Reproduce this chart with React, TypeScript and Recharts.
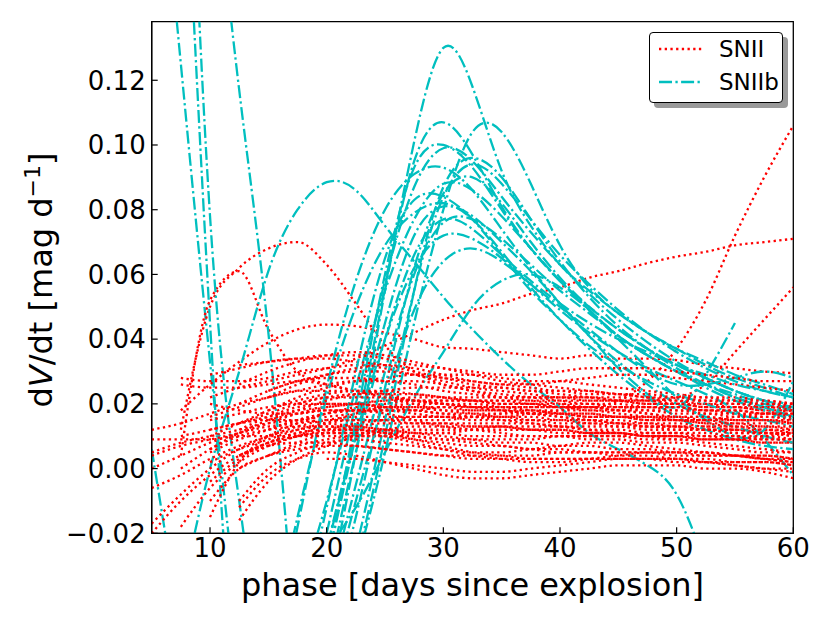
import React from 'react'
import { LineChart, Line, XAxis, YAxis, ReferenceArea } from 'recharts'

const _ = null

// phase grid (days since explosion) shared by every curve
const phases = [5, 7.5, 10, 12.5, 15, 17.5, 20, 22.5, 25, 27.5, 30, 32.5, 35, 37.5, 40, 42.5, 45, 47.5, 50, 52.5, 55, 57.5, 60]
const phaseTicks = [10, 20, 30, 40, 50, 60]
const rateTicks = [-0.02, 0, 0.02, 0.04, 0.06, 0.08, 0.1, 0.12]

// SNII dV/dt curves, one row per object (missing phases = null / left out at the end)
const snII: (number | null)[][] = [
  [_, 0.012, 0.05, 0.062, 0.068, 0.07, 0.063, 0.051, 0.038, 0.03, 0.026, 0.024, 0.022, 0.021, 0.02, 0.019, 0.019, 0.018, 0.018, 0.017, 0.017, 0.016, 0.016],
  [_, 0.004, 0.052, 0.061, 0.043, 0.03, 0.026, 0.024, 0.022, 0.021, 0.02, 0.019, 0.018, 0.017, 0.016, 0.015, 0.014, 0.013, 0.013, 0.012, 0.012, 0.011, 0.011],
  [_, 0.018, 0.026, 0.033, 0.039, 0.043, 0.0445, 0.044, 0.042, 0.04, 0.0375, 0.037, 0.036, 0.035, 0.034, 0.035, 0.034, 0.034, 0.0335, 0.032, 0.031, 0.03, 0.0295],
  [_, _, 0.022, 0.025, 0.027, 0.029, 0.031, 0.034, 0.038, 0.042, 0.046, 0.049, 0.051, 0.054, 0.056, 0.059, 0.061, 0.0635, 0.0655, 0.067, 0.069, 0.07, 0.071],
  [0.005, 0.008, 0.01, 0.012, 0.014, 0.015, 0.016, 0.017, 0.018, 0.018, 0.019, 0.019, 0.019, 0.019, 0.019, 0.019, 0.021, 0.027, 0.037, 0.052, 0.072, 0.09, 0.106],
  [_, 0.01, 0.012, 0.014, 0.016, 0.018, 0.019, 0.02, 0.021, 0.021, 0.021, 0.021, 0.021, 0.021, 0.021, 0.021, 0.021, 0.021, 0.022, 0.026, 0.036, 0.046, 0.056],
  [_, 0.028, 0.027, 0.027, 0.028, 0.03, 0.031, 0.032, 0.031, 0.029, 0.027, 0.025, 0.024, 0.023, 0.022, 0.022, 0.021, 0.02, 0.02, 0.019, 0.019, 0.018, 0.018],
  [_, 0.026, 0.025, 0.025, 0.026, 0.027, 0.026, 0.024, 0.022, 0.02, 0.018, 0.017, 0.016, 0.016, 0.015, 0.015, 0.014, 0.014, 0.013, 0.013, 0.012, 0.012, 0.011],
  [-0.017, -0.008, 0.0, 0.006, 0.01, 0.012, 0.013, 0.013, 0.012, 0.011, 0.01, 0.009, 0.008, 0.008, 0.007, 0.007, 0.006, 0.006, 0.005, 0.005, 0.004, 0.004, 0.003],
  [0.004, 0.007, 0.009, 0.011, 0.013, 0.014, 0.015, 0.015, 0.015, 0.014, 0.014, 0.013, 0.013, 0.012, 0.012, 0.011, 0.011, 0.01, 0.01, 0.009, 0.009, 0.008, 0.008],
  [0.0, 0.004, 0.008, 0.011, 0.014, 0.017, 0.019, 0.02, 0.021, 0.022, 0.022, 0.022, 0.022, 0.022, 0.022, 0.021, 0.021, 0.02, 0.02, 0.019, 0.019, 0.018, 0.018],
  [-0.006, -0.002, 0.003, 0.007, 0.01, 0.013, 0.015, 0.016, 0.016, 0.016, 0.016, 0.015, 0.015, 0.015, 0.014, 0.014, 0.013, 0.013, 0.012, 0.012, 0.011, 0.011, 0.01],
  [_, _, -0.015, 0.002, 0.01, 0.014, 0.017, 0.019, 0.02, 0.021, 0.021, 0.021, 0.02, 0.02, 0.019, 0.019, 0.018, 0.017, 0.016, 0.016, 0.015, 0.015, 0.014],
  [0.009, 0.009, 0.009, 0.01, 0.01, 0.01, 0.01, 0.01, 0.01, 0.009, 0.008, 0.007, 0.007, 0.006, 0.006, 0.005, 0.005, 0.005, 0.004, 0.004, 0.004, 0.003, 0.003],
  [_, _, _, -0.012, -0.002, 0.003, 0.005, 0.004, 0.002, 0.0, -0.002, -0.003, -0.003, -0.002, -0.001, 0.0, 0.001, 0.001, 0.001, 0.0, 0.0, -0.001, -0.003],
  [_, _, 0.01, 0.014, 0.018, 0.022, 0.025, 0.027, 0.028, 0.029, 0.029, 0.029, 0.028, 0.027, 0.027, 0.026, 0.025, 0.024, 0.023, 0.022, 0.022, 0.021, 0.02],
  [_, _, _, 0.026, 0.03, 0.033, 0.035, 0.036, 0.035, 0.033, 0.031, 0.029, 0.027, 0.026, 0.025, 0.024, 0.023, 0.022, 0.021, 0.02, 0.02, 0.019, 0.019],
  [_, _, 0.029, 0.031, 0.033, 0.034, 0.034, 0.033, 0.032, 0.03, 0.028, 0.027, 0.026, 0.026, 0.027, 0.028, 0.029, 0.029, 0.028, 0.027, 0.026, 0.025, 0.024],
  [0.012, 0.014, 0.017, 0.02, 0.022, 0.024, 0.024, 0.024, 0.023, 0.021, 0.02, 0.019, 0.018, 0.017, 0.016, 0.015, 0.015, 0.014, 0.014, 0.013, 0.013, 0.012, 0.012],
  [_, _, -0.01, 0.0, 0.004, 0.007, 0.009, 0.01, 0.01, 0.01, 0.009, 0.008, 0.007, 0.006, 0.005, 0.005, 0.004, 0.004, 0.003, 0.003, 0.002, 0.002, 0.001],
  [_, _, _, -0.016, -0.004, 0.003, 0.007, 0.01, 0.012, 0.013, 0.013, 0.013, 0.013, 0.012, 0.012, 0.011, 0.011, 0.01, 0.01, 0.009, 0.009, 0.008, 0.008],
  [_, _, 0.002, 0.006, 0.009, 0.012, 0.014, 0.015, 0.015, 0.015, 0.015, 0.016, 0.017, 0.018, 0.018, 0.018, 0.017, 0.016, 0.015, 0.015, 0.016, 0.017, 0.018],
  [_, _, _, _, 0.012, 0.015, 0.017, 0.018, 0.018, 0.018, 0.017, 0.017, 0.017, 0.017, 0.017, 0.017, 0.016, 0.016, 0.016, 0.015, 0.015, 0.015, 0.014],
  [_, -0.018, -0.006, 0.002, 0.007, 0.01, 0.011, 0.011, 0.011, 0.011, 0.011, 0.01, 0.01, 0.01, 0.01, 0.009, 0.009, 0.008, 0.008, 0.007, 0.006, 0.005, 0.005],
  [_, _, 0.006, 0.01, 0.012, 0.013, 0.013, 0.012, 0.011, 0.009, 0.007, 0.005, 0.004, 0.003, 0.003, 0.003, 0.003, 0.003, 0.002, 0.002, 0.001, 0.0, 0.0],
  [_, _, _, 0.012, 0.016, 0.019, 0.02, 0.02, 0.019, 0.019, 0.018, 0.018, 0.018, 0.018, 0.017, 0.017, 0.016, 0.016, 0.015, 0.014, 0.013, 0.013, 0.012],
  [_, _, _, _, 0.004, 0.008, 0.011, 0.013, 0.014, 0.014, 0.014, 0.014, 0.014, 0.014, 0.013, 0.013, 0.013, 0.012, 0.012, 0.012, 0.011, 0.011, 0.01],
  [_, _, _, 0.032, 0.033, 0.034, 0.035, 0.035, 0.034, 0.032, 0.031, 0.03, 0.029, 0.029, 0.03, 0.031, 0.031, 0.031, 0.03, 0.029, 0.028, 0.027, 0.027],
  [_, _, 0.02, 0.018, 0.017, 0.017, 0.018, 0.018, 0.018, 0.017, 0.016, 0.016, 0.016, 0.017, 0.018, 0.019, 0.019, 0.019, 0.018, 0.018, 0.017, 0.017, 0.016],
  [_, _, _, -0.01, 0.0, 0.005, 0.008, 0.009, 0.008, 0.007, 0.006, 0.005, 0.005, 0.006, 0.007, 0.008, 0.008, 0.007, 0.006, 0.005, 0.004, 0.003, 0.002],
  [_, _, 0.005, 0.009, 0.012, 0.015, 0.017, 0.018, 0.019, 0.019, 0.019, 0.018, 0.018, 0.017, 0.017, 0.016, 0.016, 0.015, 0.015, 0.014, 0.014, 0.013, 0.013],
  [_, _, _, 0.004, 0.007, 0.008, 0.008, 0.007, 0.006, 0.005, 0.004, 0.003, 0.003, 0.003, 0.003, 0.003, 0.003, 0.003, 0.003, 0.002, 0.002, 0.002, 0.001],
  [_, 0.0, 0.006, 0.011, 0.015, 0.018, 0.021, 0.023, 0.024, 0.025, 0.025, 0.025, 0.025, 0.024, 0.024, 0.023, 0.023, 0.022, 0.022, 0.021, 0.021, 0.02, 0.02],
  [_, _, _, _, 0.018, 0.021, 0.023, 0.024, 0.024, 0.023, 0.022, 0.021, 0.02, 0.02, 0.019, 0.019, 0.018, 0.018, 0.017, 0.017, 0.016, 0.016, 0.015],
  [_, _, 0.012, 0.014, 0.015, 0.015, 0.014, 0.013, 0.012, 0.011, 0.011, 0.012, 0.013, 0.013, 0.013, 0.012, 0.011, 0.01, 0.009, 0.009, 0.009, 0.01, 0.011],
  [_, _, _, 0.02, 0.024, 0.027, 0.029, 0.03, 0.03, 0.029, 0.028, 0.026, 0.025, 0.024, 0.023, 0.022, 0.021, 0.021, 0.02, 0.02, 0.019, 0.019, 0.018],
  [_, _, -0.004, 0.003, 0.008, 0.011, 0.012, 0.012, 0.011, 0.01, 0.009, 0.009, 0.009, 0.009, 0.01, 0.01, 0.01, 0.009, 0.009, 0.008, 0.007, 0.006, 0.005],
  [_, _, _, _, _, 0.01, 0.014, 0.017, 0.019, 0.02, 0.02, 0.02, 0.019, 0.018, 0.017, 0.016, 0.016, 0.015, 0.015, 0.015, 0.014, 0.014, 0.014],
  [_, _, _, 0.0, 0.004, 0.006, 0.007, 0.007, 0.006, 0.005, 0.004, 0.004, 0.004, 0.004, 0.005, 0.005, 0.005, 0.005, 0.005, 0.004, 0.004, 0.004, 0.003],
  [_, _, _, _, 0.022, 0.026, 0.029, 0.031, 0.032, 0.031, 0.029, 0.027, 0.026, 0.025, 0.024, 0.024, 0.023, 0.023, 0.022, 0.022, 0.021, 0.021, 0.02],
  [_, _, 0.015, 0.017, 0.019, 0.02, 0.02, 0.02, 0.019, 0.018, 0.017, 0.016, 0.015, 0.014, 0.013, 0.012, 0.012, 0.011, 0.011, 0.01, 0.01, 0.009, 0.009],
  [_, _, _, _, 0.007, 0.01, 0.012, 0.014, 0.015, 0.016, 0.016, 0.016, 0.016, 0.015, 0.015, 0.014, 0.014, 0.013, 0.013, 0.012, 0.012, 0.011, 0.011],
  [_, _, _, 0.004, 0.008, 0.01, 0.011, 0.011, 0.01, 0.008, 0.006, 0.004, 0.003, 0.002, 0.002, 0.003, 0.004, 0.005, 0.005, 0.005, 0.004, 0.003, 0.002],
  [_, _, _, _, _, 0.02, 0.022, 0.023, 0.023, 0.023, 0.022, 0.021, 0.021, 0.02, 0.02, 0.02, 0.019, 0.019, 0.019, 0.018, 0.018, 0.017, 0.017],
  [_, _, 0.016, 0.019, 0.022, 0.024, 0.026, 0.027, 0.027, 0.027, 0.026, 0.024, 0.023, 0.022, 0.021, 0.02, 0.02, 0.019, 0.019, 0.018, 0.018, 0.017, 0.017],
  [_, _, _, _, 0.015, 0.017, 0.018, 0.018, 0.017, 0.015, 0.013, 0.012, 0.011, 0.01, 0.01, 0.01, 0.01, 0.011, 0.011, 0.011, 0.01, 0.01, 0.009],
  [_, _, _, 0.014, 0.017, 0.02, 0.022, 0.022, 0.022, 0.021, 0.02, 0.019, 0.019, 0.019, 0.019, 0.018, 0.018, 0.017, 0.016, 0.016, 0.015, 0.015, 0.015],
  [_, _, _, _, _, _, 0.003, 0.003, 0.002, 0.001, 0.0, -0.001, -0.001, 0.0, 0.001, 0.002, 0.003, 0.003, 0.003, 0.002, 0.001, 0.0, -0.001],
  [_, _, _, _, 0.024, 0.027, 0.028, 0.028, 0.027, 0.026, 0.024, 0.023, 0.022, 0.022, 0.022, 0.022, 0.022, 0.021, 0.021, 0.021, 0.02, 0.02, 0.019],
  [-0.02, -0.01, -0.002, 0.004, 0.008, 0.011, 0.012, 0.012, 0.012, 0.012, 0.012, 0.012, 0.012, 0.012, 0.011, 0.011, 0.011, 0.01, 0.01, 0.01, 0.009, 0.009, 0.009],
]

// SNIIb dV/dt curves
const snIIb: (number | null)[][] = [
  [0.22, 0.125, 0.033, -0.05],
  [_, 0.22, 0.045, -0.09],
  [_, 0.27, 0.078, -0.01, -0.08],
  [_, _, 0.2, 0.117, 0.042, -0.06],
  [0.006, -0.05],
  [_, -0.04, 0.0, 0.03, 0.061, 0.08, 0.0885, 0.086, 0.075, 0.064, 0.053, 0.043, 0.034, 0.026, 0.019, 0.011, 0.006, 0.001, -0.008, -0.03],
  [_, _, _, _, _, -0.07, -0.025, 0.012, 0.056, 0.101, 0.13, 0.118, 0.092, 0.075, 0.063, 0.055, 0.048, 0.042, 0.037, 0.032, 0.028, 0.025, 0.022],
  [_, _, _, _, _, _, -0.06, -0.03, 0.005, 0.045, 0.08, 0.104, 0.104, 0.088, 0.069, 0.056, 0.048, 0.042, 0.037, 0.033, 0.029, 0.026, 0.023],
  [_, _, _, _, _, _, -0.04, 0.005, 0.055, 0.095, 0.107, 0.097, 0.081, 0.068, 0.058, 0.05, 0.043, 0.037, 0.032, 0.028, 0.024, 0.021, 0.018],
  [_, _, _, _, _, _, -0.03, 0.015, 0.06, 0.093, 0.1, 0.093, 0.08, 0.068, 0.058, 0.049, 0.041, 0.035, 0.03, 0.025, 0.021, 0.018, 0.015],
  [_, _, _, _, _, -0.06, -0.02, 0.02, 0.058, 0.087, 0.099, 0.095, 0.084, 0.073, 0.063, 0.054, 0.046, 0.039, 0.033, 0.028, 0.024, 0.021, 0.018],
  [_, _, _, _, -0.06, -0.018, 0.025, 0.058, 0.08, 0.091, 0.093, 0.086, 0.074, 0.062, 0.051, 0.041, 0.033, 0.026, 0.02, 0.016, 0.013, 0.01, 0.008],
  [_, _, _, _, _, _, -0.06, -0.025, 0.015, 0.055, 0.084, 0.094, 0.088, 0.077, 0.066, 0.057, 0.049, 0.042, 0.036, 0.031, 0.027, 0.024, 0.022],
  [_, _, _, _, _, -0.04, -0.01, 0.025, 0.055, 0.077, 0.088, 0.086, 0.078, 0.068, 0.058, 0.049, 0.041, 0.035, 0.03, 0.026, 0.023, 0.02, 0.018],
  [_, _, _, _, -0.055, -0.015, 0.022, 0.05, 0.069, 0.079, 0.082, 0.077, 0.067, 0.056, 0.046, 0.037, 0.029, 0.022, 0.016, 0.012, 0.009, 0.007, 0.006],
  [_, _, _, _, _, _, -0.03, 0.01, 0.045, 0.072, 0.081, 0.078, 0.07, 0.061, 0.051, 0.041, 0.031, 0.023, 0.019, 0.029, 0.045],
  [_, _, _, _, _, _, -0.04, -0.005, 0.03, 0.06, 0.076, 0.077, 0.071, 0.063, 0.055, 0.048, 0.041, 0.035, 0.03, 0.026, 0.022, 0.019, 0.016],
  [_, _, _, _, _, _, -0.025, 0.01, 0.04, 0.062, 0.072, 0.071, 0.065, 0.057, 0.049, 0.042, 0.036, 0.031, 0.027, 0.023, 0.018, 0.009, -0.002],
  [_, _, _, _, _, _, -0.045, -0.01, 0.022, 0.049, 0.064, 0.068, 0.064, 0.057, 0.05, 0.043, 0.036, 0.03, 0.026, 0.026, 0.028, 0.03, 0.028],
  [_, _, _, _, _, _, -0.025, -0.012, 0.005, 0.022, 0.036, 0.05, 0.058, 0.06, 0.056, 0.049, 0.04, 0.031, 0.022, 0.015, 0.01, 0.012, 0.027],
  [_, _, _, _, _, _, -0.05, -0.015, 0.025, 0.062, 0.085, 0.09, 0.082, 0.07, 0.059, 0.05, 0.043, 0.037, 0.032, 0.028, 0.024, 0.021, 0.019],
  [_, _, _, _, _, -0.05, -0.012, 0.03, 0.065, 0.083, 0.084, 0.077, 0.066, 0.055, 0.046, 0.038, 0.032, 0.027, 0.023, 0.02, 0.017, 0.015, 0.013],
  [_, _, _, _, _, _, -0.035, 0.005, 0.04, 0.066, 0.077, 0.074, 0.066, 0.058, 0.051, 0.045, 0.04, 0.036, 0.032, 0.029, 0.026, 0.024, 0.022],
  [_, _, _, _, _, _, -0.07, -0.03, 0.01, 0.055, 0.087, 0.096, 0.09, 0.077, 0.064, 0.053, 0.044, 0.037, 0.031, 0.026, 0.022, 0.019, 0.016],
]

const rows = phases.map((phase, i) => {
  const row: Record<string, number | null> = { phase }
  snII.forEach((s, j) => { row[`ii${j}`] = s[i] ?? null })
  snIIb.forEach((s, j) => { row[`iib${j}`] = s[i] ?? null })
  return row
})

// mix the two classes so neither sits fully on top
const order: { key: string; b: boolean }[] = []
for (let i = 0; i < Math.max(snII.length, snIIb.length); i++) {
  if (i < snIIb.length) order.push({ key: `iib${i}`, b: true })
  if (i < snII.length) order.push({ key: `ii${i}`, b: false })
}

const RED = '#ff0000'
const CYAN = '#00bfbf'
const DOTTED = '2.3 3.4'
const DASHDOT = '13 3.4 2.3 3.4'
const FONT = 'DejaVu Sans'

const fmtRate = (v: number) => (v < 0 ? '\u2212' + Math.abs(v).toFixed(2) : v.toFixed(2))

function RateLabel() {
  return (
    <text transform="translate(44, 272) rotate(-90)" textAnchor="middle" fontSize={32} fill="#000" fontFamily={FONT}>
      d<tspan fontStyle="italic">V</tspan>/dt [mag d<tspan dy={-12} fontSize={22}>{'\u22121'}</tspan>
      <tspan dy={12}>]</tspan>
    </text>
  )
}

function LegendBox() {
  return (
    <div
      style={{
        position: 'absolute', left: 641, top: 24, width: 134, height: 71,
        border: '1.3px solid #000', borderRadius: 4, background: '#fff',
        boxShadow: '5px 5px 0 #9a9a9a', boxSizing: 'border-box',
        fontFamily: FONT, fontSize: 23, color: '#000',
      }}
    >
      <svg width={46} height={68} style={{ position: 'absolute', left: 8, top: 0 }}>
        <line x1={1} x2={45} y1={16} y2={16} stroke={RED} strokeWidth={2.3} strokeDasharray={DOTTED} />
        <line x1={1} x2={45} y1={49} y2={49} stroke={CYAN} strokeWidth={2.3} strokeDasharray={DASHDOT} />
      </svg>
      <div style={{ position: 'absolute', left: 69, top: 4.5, lineHeight: '23px' }}>SNII</div>
      <div style={{ position: 'absolute', left: 69, top: 37.5, lineHeight: '23px' }}>SNIIb</div>
    </div>
  )
}

export default function App() {
  return (
    <div style={{ position: 'relative', width: 814, height: 607, fontFamily: FONT }}>
      <LineChart width={814} height={607} data={rows} margin={{ top: 13.7, right: 28.7, bottom: 0, left: 0 }}>
        <XAxis
          dataKey="phase"
          type="number"
          domain={[5, 60]}
          ticks={phaseTicks}
          allowDataOverflow
          height={81.7}
          tickSize={-6}
          tickMargin={11}
          axisLine={{ stroke: '#000', strokeWidth: 1.3 }}
          tickLine={{ stroke: '#000', strokeWidth: 1.2 }}
          tick={{ fill: '#000', fontSize: 26, fontFamily: FONT }}
          label={{ value: 'phase [days since explosion]', position: 'insideBottom', offset: 19, fill: '#000', fontSize: 32, fontFamily: FONT }}
        />
        <YAxis
          type="number"
          domain={[-0.02, 0.1381]}
          ticks={rateTicks}
          allowDataOverflow
          width={143.7}
          tickSize={-6}
          tickMargin={12}
          tickFormatter={fmtRate}
          axisLine={{ stroke: '#000', strokeWidth: 1.3 }}
          tickLine={{ stroke: '#000', strokeWidth: 1.2 }}
          tick={{ fill: '#000', fontSize: 26, fontFamily: FONT }}
          label={<RateLabel />}
        />
        {order.map(({ key, b }) => (
          <Line
            key={key}
            dataKey={key}
            type={b ? 'natural' : 'monotone'}
            stroke={b ? CYAN : RED}
            strokeWidth={2.3}
            strokeDasharray={b ? DASHDOT : DOTTED}
            dot={false}
            activeDot={false}
            isAnimationActive={false}
          />
        ))}
        <ReferenceArea x1={5} x2={60} y1={-0.02} y2={0.1381} fill="none" stroke="#000" strokeWidth={1.3} ifOverflow="visible" />
      </LineChart>
      <LegendBox />
    </div>
  )
}
